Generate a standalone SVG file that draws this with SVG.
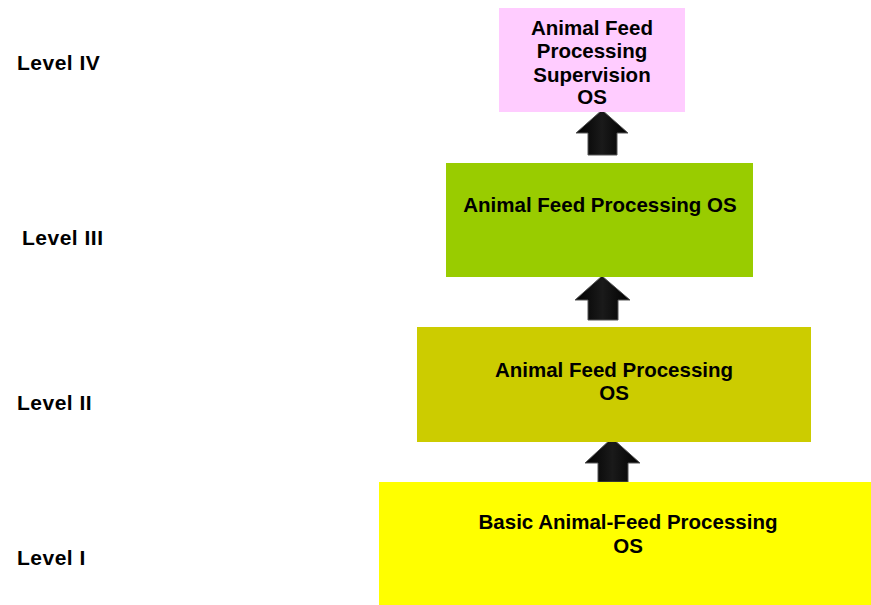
<svg xmlns="http://www.w3.org/2000/svg" width="871" height="605" viewBox="0 0 871 605">
<defs>
<style>
text{font-family:"Liberation Sans",Arial,sans-serif;font-weight:bold;font-size:20.5px;fill:#000}
.c{text-anchor:middle}
.lv{font-size:21px;letter-spacing:0.5px}
.arrow{fill:url(#ag);stroke:#555;stroke-width:1}
</style>
<linearGradient id="ag" x1="0" y1="0" x2="1" y2="0">
<stop offset="0" stop-color="#000"/>
<stop offset="0.5" stop-color="#1a1a1a"/>
<stop offset="1" stop-color="#000"/>
</linearGradient>
</defs>
<rect width="871" height="605" fill="#fff"/>
<g id="labels">
<text class="lv" x="17" y="70">Level IV</text>
<text class="lv" x="22" y="245">Level III</text>
<text class="lv" x="17" y="410">Level II</text>
<text class="lv" x="17" y="565">Level I</text>
</g>
<g id="connectors">
<path class="arrow" d="M602,110 L628,133 L617,133 L617,155 L588,155 L588,133 L576,133 Z"/>
<path class="arrow" d="M602,276 L630,300 L618,300 L618,320 L588,320 L588,300 L575,300 Z"/>
<path class="arrow" d="M612,438 L640,463 L628,463 L628,482 L598,482 L598,463 L585,463 Z"/>
</g>
<g id="level4">
<rect x="499" y="8" width="186" height="104" fill="#FFCCFF"/>
<text class="c" x="592" y="35">Animal Feed</text>
<text class="c" x="592" y="58">Processing</text>
<text class="c" x="592" y="82">Supervision</text>
<text class="c" x="592" y="104">OS</text>
</g>
<g id="level3">
<rect x="446" y="163" width="307" height="114" fill="#99CC00"/>
<text class="c" x="600" y="212">Animal Feed Processing OS</text>
</g>
<g id="level2">
<rect x="417" y="327" width="394" height="115" fill="#CCCC00"/>
<text class="c" x="614" y="377">Animal Feed Processing</text>
<text class="c" x="614" y="400">OS</text>
</g>
<g id="level1">
<rect x="379" y="482" width="492" height="123" fill="#FFFF00"/>
<text class="c" x="628" y="529">Basic Animal-Feed Processing</text>
<text class="c" x="628" y="553">OS</text>
</g>
</svg>
